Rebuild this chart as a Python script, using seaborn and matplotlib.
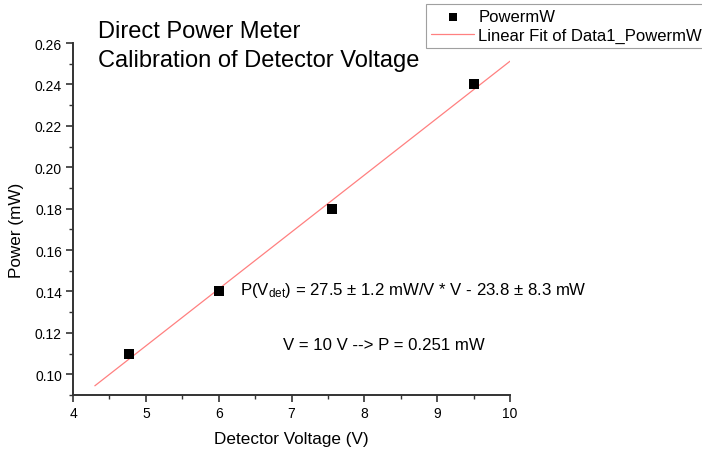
import numpy as np
import pandas as pd
import matplotlib
matplotlib.use("Agg")
import matplotlib.pyplot as plt
import seaborn as sns
from matplotlib.ticker import MultipleLocator

# ---- data ----
voltage = [4.77, 6.0, 7.55, 9.5]
power_mw = [0.11, 0.14, 0.18, 0.24]
fit_slope = 0.0275      # mW/V
fit_intercept = -0.0238 # mW
fit_x_range = [4.3, 10.0]
x_ticks = [4, 5, 6, 7, 8, 9, 10]
y_ticks = [0.10, 0.12, 0.14, 0.16, 0.18, 0.20, 0.22, 0.24, 0.26]

sns.set_theme(style="ticks")
plt.rcParams['font.family'] = ['Liberation Sans', 'DejaVu Sans']
plt.rcParams['mathtext.default'] = 'regular'
plt.rcParams['text.color'] = 'black'
plt.rcParams['axes.labelcolor'] = 'black'

df = pd.DataFrame({"V": voltage, "P": power_mw})
fit_x = np.array(fit_x_range)
fit_df = pd.DataFrame({"V": fit_x, "P": fit_slope * fit_x + fit_intercept})

fig = plt.figure(figsize=(7.02, 4.52), dpi=100)
ax = fig.add_axes([73/702, 1-396/452, (510-73)/702, (396-44)/452])

sns.lineplot(data=fit_df, x="V", y="P", ax=ax, color="#ff8080", linewidth=0.9,
             label="Linear Fit of Data1_PowermW", legend=False)
sns.scatterplot(data=df, x="V", y="P", ax=ax, marker="s", s=50, color="black",
                edgecolor="black", linewidth=0, label="PowermW", legend=False, zorder=3)

ax.set_xlim(4, 10)
ax.set_ylim(0.09, 0.26)
ax.set_xticks(x_ticks)
ax.set_xticklabels([str(t) for t in x_ticks])
ax.set_yticks(y_ticks)
ax.set_yticklabels([f"{t:.2f}" for t in y_ticks])
ax.xaxis.set_minor_locator(MultipleLocator(0.5))
ax.yaxis.set_minor_locator(MultipleLocator(0.01))

for side in ["top", "right"]:
    ax.spines[side].set_visible(False)
for side in ["left", "bottom"]:
    ax.spines[side].set_linewidth(1.4)
    ax.spines[side].set_color("#333333")
ax.tick_params(which="major", direction="out", length=5, width=1.2, color="#333333",
               labelsize=10, labelcolor="black", pad=3)
ax.tick_params(which="minor", direction="out", length=3, width=1.0, color="#333333")

ax.set_xlabel("Detector Voltage (V)", fontsize=12.3, labelpad=8)
ax.set_ylabel("Power (mW)", fontsize=12.3)
ax.yaxis.set_label_coords((24-73)/437, (396-230)/352)

fig.text(98/702, 1-32/452, "Direct Power Meter", fontsize=17, va="center", ha="left")
fig.text(98/702, 1-61/452, "Calibration of Detector Voltage", fontsize=17, va="center", ha="left")

fig.text(240/702, 1-291/452,
         r"P(V$_{det}$) = 27.5 $\pm$ 1.2 mW/V * V - 23.8 $\pm$ 8.3 mW",
         fontsize=12.1, va="center", ha="left")
fig.text(283/702, 1-345/452, "V = 10 V --> P = 0.251 mW",
         fontsize=12.1, va="center", ha="left")

handles, labels = ax.get_legend_handles_labels()
order = [labels.index("PowermW"), labels.index("Linear Fit of Data1_PowermW")]
leg = fig.legend([handles[i] for i in order], [labels[i] for i in order],
                 loc="upper left", bbox_to_anchor=(426/702, 1-5/452),
                 fontsize=12, frameon=True, fancybox=False, borderpad=0.3,
                 labelspacing=0.22, handlelength=2.6, handletextpad=0.25,
                 borderaxespad=0, markerscale=0.8)
leg.get_frame().set_edgecolor("#888888")
leg.get_frame().set_linewidth(0.8)

fig.savefig("out.png", dpi=100)
